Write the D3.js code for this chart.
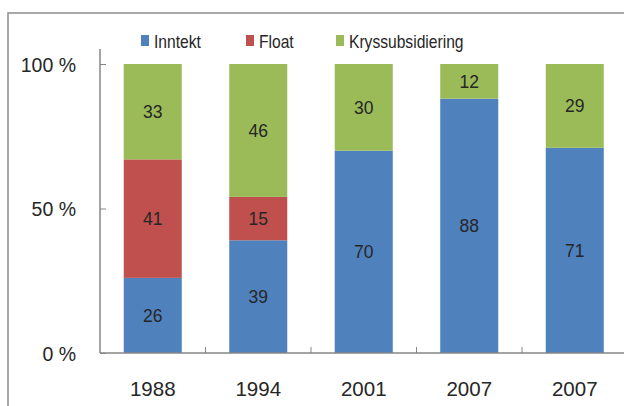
<!DOCTYPE html>
<html><head><meta charset="utf-8">
<script src="https://cdn.jsdelivr.net/npm/d3@7"></script>
<style>body{margin:0;background:#fff}svg{display:block}text{font-family:"Liberation Sans",Arial,sans-serif;fill:#262626}</style>
</head><body><svg id="c" width="624" height="406"></svg>
<script>
const categories = ["1988","1994","2001","2007","2007"];
const seriesNames = ["Inntekt","Float","Kryssubsidiering"];
const inntekt = [26,39,70,88,71];
const float = [41,15,0,0,0];
const kryss = [33,46,30,12,29];
const yTicks = [0,50,100];
const colors = ["#4F81BD","#C0504D","#9BBB59"];

(function(){
const svg = d3.select("#c");
const pLeft = 100, pRight = 627.5, pTop = 64, pBottom = 353, axisTop = 49;

// outer frame
svg.append("rect").attr("x",8).attr("y",13).attr("width",700).attr("height",500)
  .attr("fill","none").attr("stroke","#8c8c8c").attr("stroke-width",1.5);

const x = d3.scaleBand().domain(d3.range(categories.length)).range([pLeft,pRight])
  .paddingInner(0.45).paddingOuter(0.225);
const y = d3.scaleLinear().domain([0,100]).range([pBottom,pTop]);

const rows = categories.map((c,i)=>({i, Inntekt:inntekt[i], Float:float[i], Kryssubsidiering:kryss[i]}));
const stack = d3.stack().keys(seriesNames)(rows);

const g = svg.append("g");
stack.forEach((s,k)=>{
  g.selectAll(null).data(s).enter().append("rect")
    .attr("x",d=>x(d.data.i)).attr("width",x.bandwidth())
    .attr("y",d=>y(d[1])).attr("height",d=>y(d[0])-y(d[1]))
    .attr("fill",colors[k]);
});
stack.forEach((s,k)=>{
  g.selectAll(null).data(s.filter(d=>d[1]-d[0]>0)).enter().append("text")
    .attr("x",d=>x(d.data.i)+x.bandwidth()/2)
    .attr("y",d=>(y(d[0])+y(d[1]))/2)
    .attr("dy","0.36em").attr("text-anchor","middle")
    .style("font-size","17.5px")
    .text(d=>d[1]-d[0]);
});

// axes
const axisColor = "#868686";
svg.append("line").attr("x1",pLeft).attr("x2",pLeft).attr("y1",axisTop).attr("y2",pBottom)
  .attr("stroke",axisColor).attr("stroke-width",1.5);
svg.append("line").attr("x1",pLeft).attr("x2",700).attr("y1",pBottom).attr("y2",pBottom)
  .attr("stroke",axisColor).attr("stroke-width",1.5);

const yAxis = d3.axisLeft(y).tickValues(yTicks).tickSize(0).tickPadding(0).tickFormat(d=>d+" %");
const ya = svg.append("g").attr("transform",`translate(${pLeft},0)`).call(yAxis);
ya.select(".domain").remove();
ya.attr("font-family",null).attr("font-size",null);
ya.selectAll("text").attr("x",-24).attr("dy","0.36em").style("font-size","19.5px").attr("fill",null);
ya.selectAll(".tick").append("line").attr("x1",0).attr("x2",6).attr("stroke",axisColor).attr("stroke-width",1);

// x category ticks (between categories)
const step = x.step();
const bounds = d3.range(1,categories.length).map(i=>x(i)-step*x.paddingInner()/2);
svg.selectAll(null).data(bounds).enter().append("line")
  .attr("x1",d=>d).attr("x2",d=>d).attr("y1",pBottom).attr("y2",pBottom-6)
  .attr("stroke",axisColor).attr("stroke-width",1);

svg.selectAll(null).data(categories).enter().append("text")
  .attr("x",(d,i)=>x(i)+x.bandwidth()/2).attr("y",396)
  .attr("text-anchor","middle").style("font-size","20.5px").text(d=>d);

// legend
const legX = [141,246,336];
const leg = svg.append("g");
seriesNames.forEach((n,k)=>{
  leg.append("rect").attr("x",legX[k]).attr("y",35).attr("width",8).attr("height",11).attr("fill",colors[k]);
  leg.append("text").attr("transform",`translate(${legX[k]+13},47.5) scale(0.84,1)`)
    .style("font-size","18.6px").text(n);
});
})();
</script></body></html>
